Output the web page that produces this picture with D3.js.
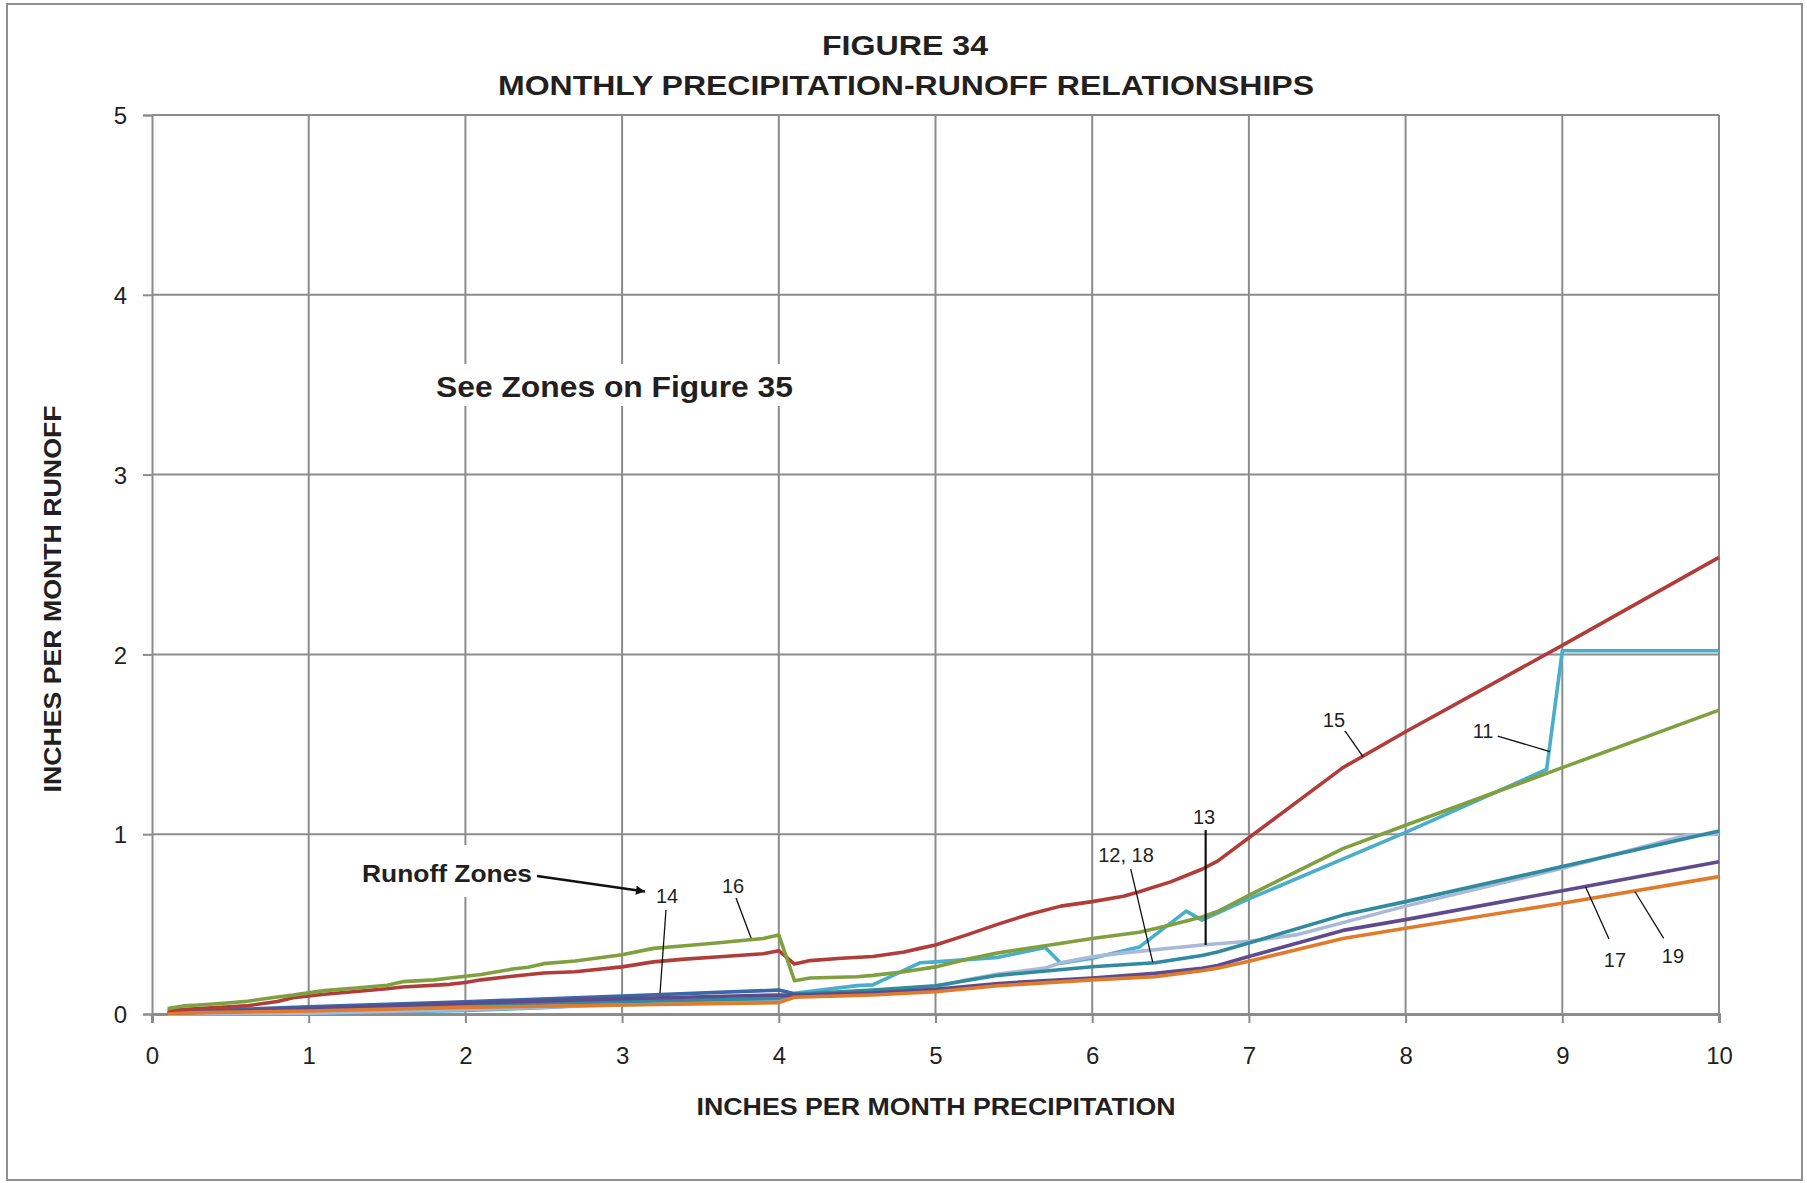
<!DOCTYPE html>
<html>
<head>
<meta charset="utf-8">
<script src="https://cdn.jsdelivr.net/npm/d3@7"></script>
<style>
  html, body { margin: 0; padding: 0; background: #ffffff; }
  svg { display: block; }
  text { font-family: "Liberation Sans", Arial, Helvetica, sans-serif; fill: #231f20; }
</style>
</head>
<body>
<svg id="chart" width="1807" height="1183"></svg>
<script>
// ---------------- DATA ----------------
const titleLines = ["FIGURE 34", "MONTHLY PRECIPITATION-RUNOFF RELATIONSHIPS"];
const xAxisTitle = "INCHES PER MONTH PRECIPITATION";
const yAxisTitle = "INCHES PER MONTH RUNOFF";
const xTicks = [0, 1, 2, 3, 4, 5, 6, 7, 8, 9, 10];
const yTicks = [0, 1, 2, 3, 4, 5];

// Zone 11 (precipitation, runoff)
const zone11 = [[0.1,0.0],[1.0,0.005],[2.0,0.02],[2.5,0.035],[3.0,0.06],[3.5,0.07],[4.0,0.08],[4.1,0.115],
  [4.5,0.158],[4.6,0.162],[4.9,0.285],[5.0,0.29],[5.4,0.315],[5.7,0.37],[5.8,0.282],[6.0,0.31],[6.3,0.372],
  [6.6,0.572],[6.7,0.522],[7.0,0.64],[8.0,1.01],[8.9,1.36],[9.0,2.02],[10,2.02]];
// Zone 13
const zone13 = [[0.1,0.0],[1.0,0.005],[2.0,0.025],[3.0,0.05],[4.0,0.078],[4.1,0.105],[4.6,0.12],[5.0,0.15],
  [5.2,0.19],[5.4,0.222],[5.7,0.255],[5.8,0.285],[6.0,0.318],[6.2,0.34],[6.7,0.384],[7.0,0.405],[7.3,0.44],
  [8.0,0.6],[9.0,0.81],[9.8,0.995],[10,1.0]];
// Zone 14
const zone14 = [[0.1,0.01],[1.0,0.04],[2.0,0.068],[3.0,0.1],[4.0,0.133],[4.1,0.112],[4.2,0.113]];
// Zones 12, 18
const zone12_18 = [[0.1,0.005],[1.0,0.025],[2.0,0.05],[3.0,0.07],[4.0,0.087],[4.1,0.11],[4.6,0.133],[5.0,0.157],
  [5.4,0.215],[6.0,0.263],[6.4,0.285],[6.7,0.325],[6.8,0.345],[7.0,0.395],[7.6,0.55],[8.0,0.625],[9.0,0.82],[10,1.018]];
// Zone 17
const zone17 = [[0.1,0.005],[1.0,0.03],[2.0,0.06],[3.0,0.085],[4.0,0.106],[4.1,0.105],[4.6,0.118],[5.0,0.137],
  [5.4,0.17],[6.0,0.2],[6.4,0.226],[6.7,0.254],[6.8,0.27],[7.0,0.32],[7.6,0.465],[8.0,0.525],[9.0,0.686],[10,0.847]];
// Zone 19
const zone19 = [[0.1,0.005],[1.0,0.017],[2.0,0.037],[3.0,0.05],[4.0,0.063],[4.1,0.093],[4.6,0.106],[5.0,0.124],
  [5.4,0.157],[6.0,0.19],[6.4,0.207],[6.7,0.241],[6.8,0.255],[7.0,0.293],[7.6,0.42],[8.0,0.477],[9.0,0.616],[10,0.764]];
// Zone 15
const zone15 = [[0.1,0.02],[0.3,0.03],[0.6,0.045],[0.8,0.07],[0.9,0.09],[1.1,0.11],[1.3,0.125],[1.5,0.14],[1.6,0.15],
  [1.9,0.165],[2.0,0.175],[2.1,0.19],[2.3,0.21],[2.5,0.228],[2.7,0.235],[3.0,0.262],[3.2,0.29],[3.4,0.305],[3.6,0.317],
  [3.9,0.335],[4.0,0.352],[4.1,0.278],[4.2,0.297],[4.4,0.31],[4.6,0.32],[4.8,0.345],[4.9,0.365],[5.0,0.384],[5.2,0.44],
  [5.4,0.5],[5.6,0.555],[5.8,0.6],[6.0,0.625],[6.2,0.655],[6.3,0.68],[6.5,0.735],[6.7,0.805],[6.8,0.85],[7.0,0.98],
  [7.6,1.37],[8.0,1.57],[9.0,2.05],[10,2.54]];
// Zone 16
const zone16 = [[0.1,0.03],[0.2,0.045],[0.3,0.05],[0.5,0.063],[0.6,0.07],[0.8,0.095],[0.9,0.105],[1.1,0.13],[1.3,0.145],
  [1.5,0.16],[1.6,0.18],[1.8,0.19],[1.9,0.2],[2.1,0.22],[2.3,0.25],[2.4,0.26],[2.5,0.28],[2.7,0.295],[3.0,0.33],[3.2,0.365],
  [3.4,0.38],[3.6,0.395],[3.9,0.42],[4.0,0.44],[4.1,0.185],[4.2,0.2],[4.5,0.207],[4.6,0.215],[4.8,0.235],[5.0,0.262],
  [5.2,0.305],[5.4,0.34],[5.7,0.38],[6.0,0.42],[6.3,0.455],[6.5,0.495],[6.7,0.54],[6.8,0.57],[7.0,0.66],[7.6,0.92],
  [8.0,1.05],[9.0,1.37],[10,1.69]];

const seriesNames  = ["11", "13", "14", "12, 18", "17", "19", "15", "16"];
const seriesData   = [zone11, zone13, zone14, zone12_18, zone17, zone19, zone15, zone16];
const seriesColors = ["#4aadc9", "#a9b9da", "#3a67a6", "#2f8b9d", "#5f4b8b", "#e07b2b", "#b03d3a", "#80a040"];

// Callout labels: text, text anchor point (data), leader from/to (data)
const calloutText = ["14", "16", "12, 18", "13", "15", "11", "17", "19"];
const calloutPos  = [[3.287,0.616],[3.708,0.675],[6.216,0.847],[6.714,1.057],[7.543,1.598],[8.494,1.535],[9.336,0.263],[9.706,0.285]];
const calloutFrom = [[3.28,0.578],[3.727,0.645],[6.246,0.806],[6.724,1.023],[7.613,1.574],[8.588,1.546],[9.298,0.417],[9.647,0.421]];
const calloutTo   = [[3.242,0.117],[3.823,0.423],[6.386,0.288],[6.724,0.384],[7.728,1.431],[8.921,1.459],[9.148,0.708],[9.464,0.68]];

// ---------------- DRAW ----------------
const W = 1807, H = 1183;
const svg = d3.select("#chart");
const x = d3.scaleLinear().domain([0, 10]).range([152, 1719]);
const y = d3.scaleLinear().domain([0, 5]).range([1014, 115]);
const gridColor = "#8c8c8c";

svg.append("rect").attr("x", 0).attr("y", 0).attr("width", W).attr("height", H).attr("fill", "#fff");
svg.append("rect").attr("x", 7).attr("y", 4).attr("width", 1795).attr("height", 1176)
  .attr("fill", "none").attr("stroke", "#8f8f8f").attr("stroke-width", 2);

// grid
const grid = svg.append("g");
grid.selectAll("line.v").data(xTicks.slice(1)).join("line")
  .attr("x1", d => x(d)).attr("x2", d => x(d)).attr("y1", y(5)).attr("y2", y(0))
  .attr("stroke", gridColor).attr("stroke-width", 2);
grid.selectAll("line.h").data(yTicks.slice(1)).join("line")
  .attr("x1", x(0)).attr("x2", x(10)).attr("y1", d => y(d)).attr("y2", d => y(d))
  .attr("stroke", gridColor).attr("stroke-width", 2);

// white boxes behind annotation text
svg.append("rect").attr("x", 426).attr("y", 364).attr("width", 376).attr("height", 42).attr("fill", "#fff");
svg.append("rect").attr("x", 352).attr("y", 845).attr("width", 190).attr("height", 52).attr("fill", "#fff");

// axes
const xAxis = svg.append("g").attr("transform", `translate(0,${y(0)})`)
  .call(d3.axisBottom(x).tickValues(xTicks).tickSize(9).tickFormat(d3.format("d")));
const yAxis = svg.append("g").attr("transform", `translate(${x(0)},0)`)
  .call(d3.axisLeft(y).tickValues(yTicks).tickSize(9).tickFormat(d3.format("d")));
[xAxis, yAxis].forEach(g => {
  g.selectAll("path.domain").attr("stroke", gridColor).attr("stroke-width", 2);
  g.selectAll(".tick line").attr("stroke", gridColor).attr("stroke-width", 2);
  g.selectAll(".tick text").attr("font-size", 24).attr("fill", "#231f20")
    .style("font-family", "'Liberation Sans', Arial, sans-serif");
});
xAxis.select("path.domain").attr("stroke-width", 3);
xAxis.selectAll(".tick text").attr("y", 50).attr("dy", 0);
yAxis.selectAll(".tick text").attr("x", -25).attr("dy", "0.36em");

// series lines
const line = d3.line().x(d => x(d[0])).y(d => y(d[1]));
svg.append("g").selectAll("path").data(seriesData).join("path")
  .attr("d", d => line(d)).attr("fill", "none")
  .attr("stroke", (d, i) => seriesColors[i]).attr("stroke-width", 3.6)
  .attr("stroke-linejoin", "round");

// titles
svg.append("text").text(titleLines[0]).attr("x", 905).attr("y", 55).attr("text-anchor", "middle")
  .attr("font-size", 28).attr("font-weight", "bold").attr("textLength", 166).attr("lengthAdjust", "spacingAndGlyphs");
svg.append("text").text(titleLines[1]).attr("x", 906).attr("y", 95).attr("text-anchor", "middle")
  .attr("font-size", 27).attr("font-weight", "bold").attr("textLength", 816).attr("lengthAdjust", "spacingAndGlyphs");
svg.append("text").text(xAxisTitle).attr("x", 936).attr("y", 1115).attr("text-anchor", "middle")
  .attr("font-size", 24).attr("font-weight", "bold").attr("textLength", 479).attr("lengthAdjust", "spacingAndGlyphs");
svg.append("text").text(yAxisTitle).attr("transform", "translate(61,599) rotate(-90)").attr("text-anchor", "middle")
  .attr("font-size", 24).attr("font-weight", "bold").attr("textLength", 387).attr("lengthAdjust", "spacingAndGlyphs");

// annotations
svg.append("text").text("See Zones on Figure 35").attr("x", 436).attr("y", 397)
  .attr("font-size", 30).attr("font-weight", "bold").attr("textLength", 357).attr("lengthAdjust", "spacingAndGlyphs");
svg.append("text").text("Runoff Zones").attr("x", 362).attr("y", 882)
  .attr("font-size", 24).attr("font-weight", "bold").attr("textLength", 170).attr("lengthAdjust", "spacingAndGlyphs");

const defs = svg.append("defs");
defs.append("marker").attr("id", "ah").attr("viewBox", "0 0 10 10").attr("refX", 10).attr("refY", 5)
  .attr("markerWidth", 14).attr("markerHeight", 9).attr("markerUnits", "userSpaceOnUse").attr("orient", "auto")
  .append("path").attr("d", "M0,0 L10,5 L0,10 z").attr("fill", "#111");
svg.append("line").attr("x1", 537).attr("y1", 876).attr("x2", 645).attr("y2", 891.5)
  .attr("stroke", "#111").attr("stroke-width", 2.5).attr("marker-end", "url(#ah)");

// callouts
const cg = svg.append("g");
calloutText.forEach((t, i) => {
  cg.append("line")
    .attr("x1", x(calloutFrom[i][0])).attr("y1", y(calloutFrom[i][1]))
    .attr("x2", x(calloutTo[i][0])).attr("y2", y(calloutTo[i][1]))
    .attr("stroke", "#111").attr("stroke-width", t === "13" ? 2.2 : 1.3);
  cg.append("text").text(t).attr("x", x(calloutPos[i][0])).attr("y", y(calloutPos[i][1]))
    .attr("text-anchor", "middle").attr("font-size", 20);
});
</script>
</body>
</html>
